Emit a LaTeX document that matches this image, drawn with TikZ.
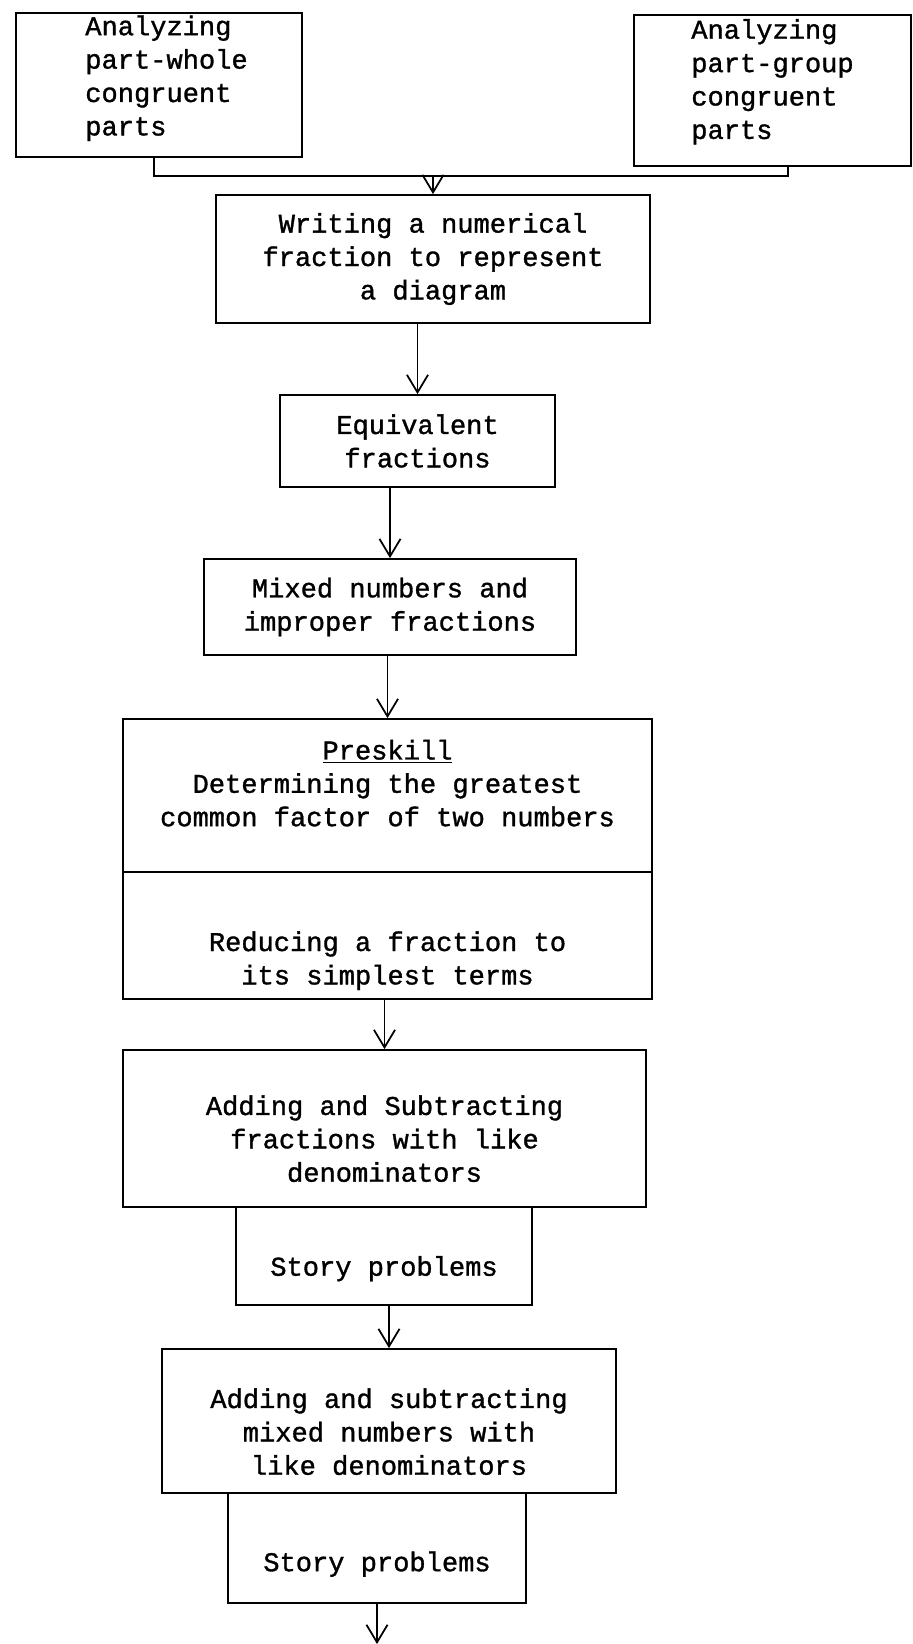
\documentclass[tikz,border=0pt]{standalone}
\usepackage{fontspec}
\setmainfont{Liberation Mono}[AutoFakeBold=1.2]
\usetikzlibrary{arrows.meta}
\newcommand{\txtdown}[1]{\rule{0pt}{#1}}
\newcommand{\txtup}[1]{\rule[-#1]{0pt}{#1}}

\begin{document}
\begin{tikzpicture}[line width=1pt, >={Straight Barb[length=10pt,width=12pt]},
  box/.style={draw, rectangle, align=center, inner sep=0pt, font=\fontsize{15.4pt}{19pt}\selectfont\bfseries}]

\useasboundingbox (0,0) rectangle (18.24,-32.88);

% Part-whole parts
\node[box, align=left, minimum width=5.72cm, minimum height=2.88cm] (partwhole) at (3.18,-1.70) {\hspace*{0.3cm}Analyzing\\\hspace*{0.3cm}part-whole\\\hspace*{0.3cm}congruent\\\hspace*{0.3cm}parts\txtup{0.38cm}};

% Part-group parts
\node[box, align=left, minimum width=5.54cm, minimum height=3.02cm] (partgroup) at (15.45,-1.81) {Analyzing\\part-group\\congruent\\parts\txtup{0.46cm}};

% Numerical fraction
\node[box, minimum width=8.68cm, minimum height=2.56cm] (numfrac) at (8.66,-5.18) {Writing a numerical\\fraction to represent\\a diagram};

% Equivalent fractions
\node[box, minimum width=5.50cm, minimum height=1.84cm] (equiv) at (8.35,-8.82) {Equivalent\\fractions};

% Mixed numbers
\node[box, minimum width=7.44cm, minimum height=1.92cm] (mixed) at (7.80,-12.14) {Mixed numbers and\\improper fractions};

% Preskill: greatest common factor
\node[box, minimum width=10.58cm, minimum height=3.06cm] (gcf) at (7.75,-15.91) {\underline{Preskill}\\Determining the greatest\\common factor of two numbers\txtup{0.5cm}};

% Simplest terms
\node[box, minimum width=10.58cm, minimum height=2.54cm] (reduce) at (7.75,-18.71) {\txtdown{1.4cm}Reducing a fraction to\\its simplest terms};

% Adding and subtracting, like denominators
\node[box, minimum width=10.46cm, minimum height=3.14cm] (addlike) at (7.69,-22.57) {\txtdown{0.8cm}Adding and Subtracting\\fractions with like\\denominators};

% Story problems
\node[box, minimum width=5.92cm, minimum height=1.96cm] (story1) at (7.68,-25.12) {\txtdown{0.9cm}Story problems};

% Adding and subtracting mixed numbers
\node[box, minimum width=9.08cm, minimum height=2.88cm] (addmixed) at (7.78,-28.42) {\txtdown{0.82cm}Adding and subtracting\\mixed numbers with\\like denominators};

% Story problems
\node[box, minimum width=5.96cm, minimum height=2.20cm] (story2) at (7.54,-30.96) {\txtdown{1.04cm}Story problems};

% Joining the two top boxes
\coordinate (joinL) at (3.08,-3.52);
\coordinate (joinR) at (15.76,-3.52);
\coordinate (next) at (7.54,-32.88);
\draw (partwhole.south -| joinL) -- (joinL) -- (joinR) -- (partgroup.south -| joinR);
\draw[->] (numfrac.north |- joinL) -- (numfrac);

% Arrows down the chart
\draw[->] (equiv.north |- numfrac.south) -- (equiv);
\draw[->] (mixed.north |- equiv.south) -- (mixed);
\draw[->] (gcf.north |- mixed.south) -- (gcf);
\draw[->] (addlike.north |- reduce.south) -- (addlike);
\draw[->] (addmixed.north |- story1.south) -- (addmixed);
\draw[->] (story2) -- (next);

\end{tikzpicture}
\end{document}
